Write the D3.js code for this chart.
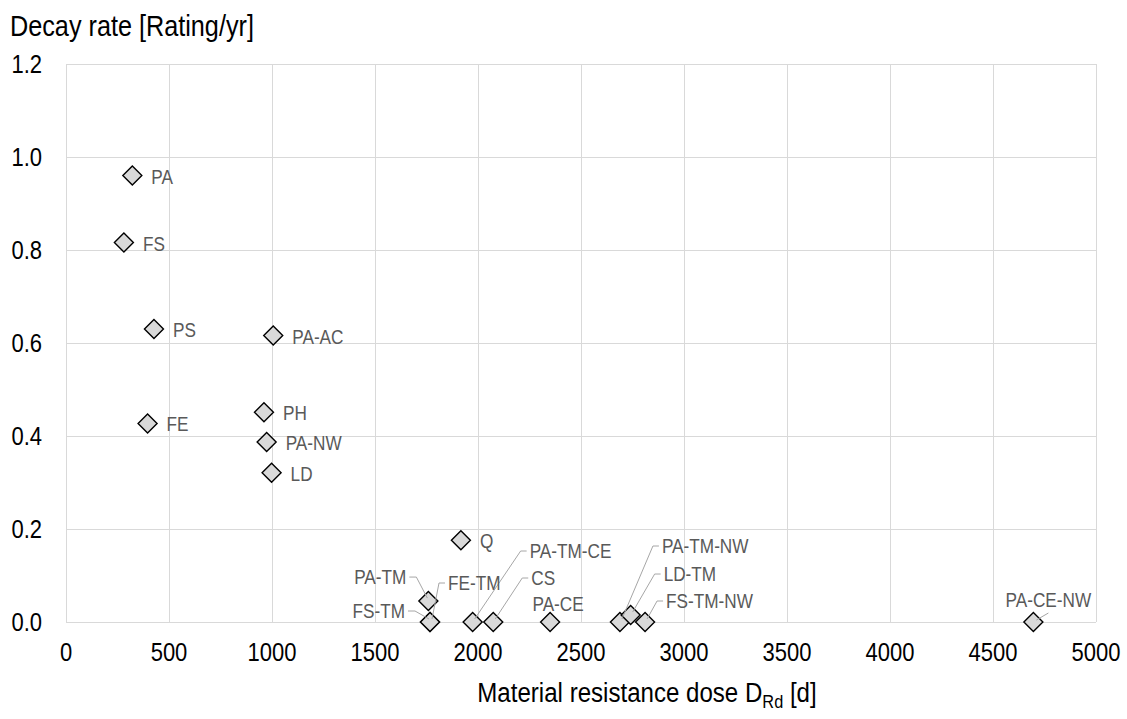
<!DOCTYPE html>
<html>
<head>
<meta charset="utf-8">
<script src="https://cdn.jsdelivr.net/npm/d3@7/dist/d3.min.js"></script>
<style>
  html, body { margin: 0; padding: 0; background: #fff; }
  svg { display: block; font-family: "Liberation Sans", Arial, sans-serif; }
</style>
</head>
<body>
<div id="chart"></div>
<script>
// material codes, resistance dose [d], decay rate [rating/yr]
const materials = ["PA", "FS", "PS", "PA-AC", "FE", "PH", "PA-NW", "LD", "Q",
  "PA-TM", "FS-TM", "FE-TM", "PA-TM-CE", "CS", "PA-CE", "PA-TM-NW", "LD-TM", "FS-TM-NW", "PA-CE-NW"];
const doseValues = [322, 281, 427, 1006, 396, 961, 974, 998, 1917,
  1759, 1767, 1767, 1974, 2074, 2350, 2689, 2741, 2811, 4696];
const decayValues = [0.96, 0.816, 0.630, 0.616, 0.427, 0.451, 0.387, 0.321, 0.176,
  0.045, 0, 0, 0, 0, 0, 0, 0.015, 0, 0];

const xTicks = [0, 500, 1000, 1500, 2000, 2500, 3000, 3500, 4000, 4500, 5000];
const yTicks = [0, 0.2, 0.4, 0.6, 0.8, 1.0, 1.2];

// label placement (px offsets from point), anchor and leader line kind
const labelLayout = {
  "PA-TM":    { dx: -22, dy: -17, anchor: "end",    leader: "right" },
  "FS-TM":    { dx: -25, dy: -4,  anchor: "end",    leader: "right" },
  "FE-TM":    { dx: 18,  dy: -32, anchor: "start",  leader: "left" },
  "PA-TM-CE": { dx: 57,  dy: -64, anchor: "start",  leader: "left" },
  "CS":       { dx: 38,  dy: -37, anchor: "start",  leader: "left" },
  "PA-CE":    { dx: 8,   dy: -11, anchor: "middle", leader: null },
  "PA-TM-NW": { dx: 42,  dy: -69, anchor: "start",  leader: "left" },
  "LD-TM":    { dx: 33,  dy: -34, anchor: "start",  leader: "left" },
  "FS-TM-NW": { dx: 21,  dy: -14, anchor: "start",  leader: "left" },
  "PA-CE-NW": { dx: 15,  dy: -15, anchor: "middle", leader: "below" }
};
const defaultLayout = { dx: 19, dy: 8, anchor: "start", leader: null };

const points = materials.map((name, i) => ({ name, dose: doseValues[i], rate: decayValues[i] }));

const W = 1127, H = 719;
const margin = { top: 64, right: 31, bottom: 97, left: 66 };
const width = W - margin.left - margin.right;
const height = H - margin.top - margin.bottom;

const svg = d3.select("#chart").append("svg").attr("width", W).attr("height", H);
const g = svg.append("g").attr("transform", `translate(${margin.left},${margin.top})`);

const x = d3.scaleLinear().domain([0, 5000]).range([0, width]);
const y = d3.scaleLinear().domain([0, 1.2]).range([height, 0]);

const gridColor = "#d9d9d9";

// gridlines + frame
g.append("g").selectAll("line").data(xTicks).join("line")
  .attr("x1", d => Math.round(x(d)) + 0.5).attr("x2", d => Math.round(x(d)) + 0.5)
  .attr("y1", 0).attr("y2", height)
  .attr("stroke", gridColor);
g.append("g").selectAll("line").data(yTicks).join("line")
  .attr("y1", d => Math.round(y(d)) + 0.5).attr("y2", d => Math.round(y(d)) + 0.5)
  .attr("x1", 0).attr("x2", width)
  .attr("stroke", gridColor);

// squashed text helper (source chart font is a bit condensed)
function squashText(sel, px, py, sx) {
  return sel.attr("transform", `translate(${px},${py}) scale(${sx},1)`);
}

// y tick labels
g.append("g").selectAll("text").data(yTicks).join("text")
  .each(function(d) { squashText(d3.select(this), -24, y(d) + 9, 0.88); })
  .attr("text-anchor", "end")
  .style("font-size", "25px").attr("fill", "#000")
  .text(d3.format(".1f"));

// x tick labels
g.append("g").selectAll("text").data(xTicks).join("text")
  .each(function(d) { squashText(d3.select(this), x(d), height + 39, 0.88); })
  .attr("text-anchor", "middle")
  .style("font-size", "25px").attr("fill", "#000")
  .text(d => d);

// axis titles
squashText(svg.append("text"), 10, 36, 0.87)
  .style("font-size", "29px").attr("fill", "#000")
  .text("Decay rate [Rating/yr]");

const xTitle = squashText(svg.append("text"), margin.left + width / 2 + 66, 702, 0.86)
  .attr("text-anchor", "middle")
  .style("font-size", "28px").attr("fill", "#000");
xTitle.append("tspan").text("Material resistance dose D");
xTitle.append("tspan").attr("dy", 6).style("font-size", "19px").text("Rd");
xTitle.append("tspan").attr("dy", -6).text(" [d]");

// markers
const diamond = "M0,-9.5L9.5,0L0,9.5L-9.5,0Z";
g.append("g").selectAll("path").data(points).join("path")
  .attr("d", diamond)
  .attr("transform", d => `translate(${x(d.dose)},${y(d.rate)})`)
  .attr("fill", "#d9d9d9").attr("stroke", "#000").attr("stroke-width", 1.4);

// leader lines
const leaderData = points.filter(d => labelLayout[d.name] && labelLayout[d.name].leader);
g.append("g").selectAll("path").data(leaderData).join("path")
  .attr("fill", "none").attr("stroke", "#a6a6a6").attr("stroke-width", 1)
  .attr("d", d => {
    const L = labelLayout[d.name];
    const px = x(d.dose), py = y(d.rate);
    const lx = px + L.dx, ly = py + L.dy - 7;
    if (L.leader === "left") {
      return `M${lx - 3},${ly}H${lx - 9}L${px + 2},${py - 3}`;
    }
    if (L.leader === "right") {
      return `M${lx + 3},${ly}H${lx + 10}L${px - 1},${py - 3}`;
    }
    // below the label
    return `M${lx},${py + L.dy + 6}L${px + 3},${py - 2}`;
  });

// data labels
g.append("g").selectAll("text").data(points).join("text")
  .each(function(d) {
    const L = labelLayout[d.name] || defaultLayout;
    squashText(d3.select(this), x(d.dose) + L.dx, y(d.rate) + L.dy, 0.86)
      .attr("text-anchor", L.anchor);
  })
  .style("font-size", "20px").attr("fill", "#595959")
  .text(d => d.name);
</script>
</body>
</html>
